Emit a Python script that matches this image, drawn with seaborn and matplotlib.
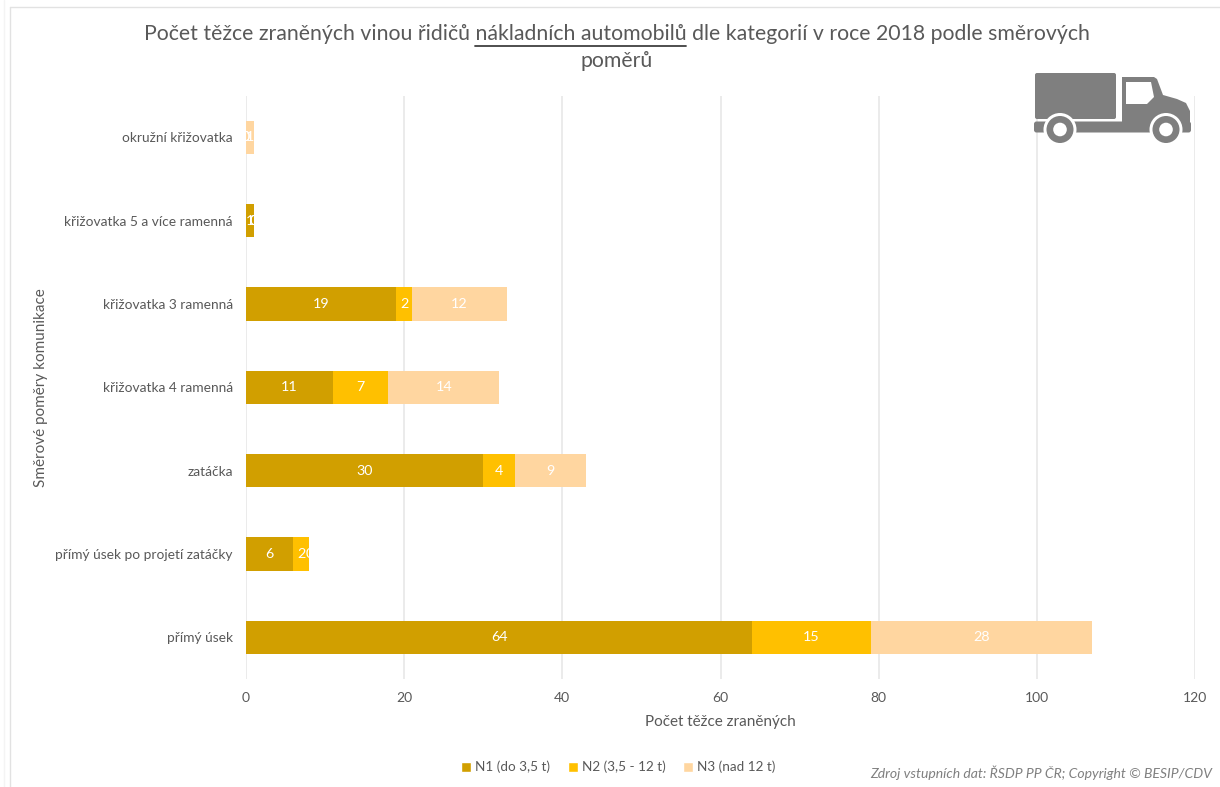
import matplotlib
matplotlib.use("Agg")
import matplotlib.pyplot as plt
from matplotlib.lines import Line2D
from matplotlib.patches import Circle, FancyBboxPatch, Patch, Polygon
import numpy as np
import seaborn as sns

categories = [
    "okružní křižovatka",
    "křižovatka 5 a více ramenná",
    "křižovatka 3 ramenná",
    "křižovatka 4 ramenná",
    "zatáčka",
    "přímý úsek po projetí zatáčky",
    "přímý úsek",
]
n1 = [0, 1, 19, 11, 30, 6, 64]
n2 = [0, 0, 2, 7, 4, 2, 15]
n3 = [1, 0, 12, 14, 9, 0, 28]
series_names = ["N1 (do 3,5 t)", "N2 (3,5 - 12 t)", "N3 (nad 12 t)"]
series_colors = ["#D19F00", "#FFC000", "#FFD6A0"]
x_ticks = [0, 20, 40, 60, 80, 100, 120]

title_before = "Počet těžce zraněných vinou řidičů "
title_under = "nákladních automobilů"
title_line1 = title_before + title_under + " dle kategorií v roce 2018 podle směrových"
title_line2 = "poměrů"
x_label = "Počet těžce zraněných"
y_label = "Směrové poměry komunikace"
source_note = "Zdroj vstupních dat: ŘSDP PP ČR; Copyright © BESIP/CDV"

W, H = 1220, 787
TEXT = "#595959"
GRID = "#E6E6E6"
TITLE_SIZE = 15.35

sns.set_theme(style="white")
plt.rcParams["font.family"] = ["Lato", "DejaVu Sans"]

fig = plt.figure(figsize=(W / 100, H / 100), dpi=100, facecolor="white")
ax = fig.add_axes([246 / W, 1 - 679 / H, (1195 - 246) / W, (679 - 95.5) / H])

# Stacked horizontal bars: each series starts where the previous ones end
lefts = np.zeros(len(categories))
for values, name, color in zip([n1, n2, n3], series_names, series_colors):
    sns.barplot(x=values, y=categories, left=lefts, color=color, saturation=1,
                width=0.4, ax=ax, label=name, orient="y", legend=False, linewidth=0)
    lefts = lefts + np.array(values)

# White value labels, zero values included
for container, values in zip(ax.containers, [n1, n2, n3]):
    ax.bar_label(container, labels=[str(v) for v in values], label_type="center",
                 color="white", fontsize=10.3)

ax.set_xlim(0, 120)
ax.set_xticks(x_ticks)
ax.set_axisbelow(True)
ax.grid(axis="x", color=GRID, linewidth=1.1)
ax.grid(axis="y", visible=False)
for spine in ax.spines.values():
    spine.set_visible(False)
ax.tick_params(axis="x", length=0, pad=9.5, labelsize=10, labelcolor=TEXT)
ax.tick_params(axis="y", length=0, pad=9.5, labelsize=9.9, labelcolor=TEXT)
ax.set_xlabel("")
ax.set_ylabel("")

fig.text(720 / W, 1 - 722 / H, x_label, ha="center", va="center", fontsize=10.95, color=TEXT)
fig.text(41 / W, 1 - 388 / H, y_label, ha="center", va="center", rotation=90,
         fontsize=11, color=TEXT)

# Title with the vehicle type underlined
fig.text(616.5 / W, 1 - 34 / H, title_line1, ha="center", va="center", fontsize=TITLE_SIZE, color=TEXT)
fig.text(616.5 / W, 1 - 61 / H, title_line2, ha="center", va="center", fontsize=TITLE_SIZE, color=TEXT)
renderer = fig.canvas.get_renderer()


def text_width(s):
    probe = fig.text(0, 0, s, fontsize=TITLE_SIZE)
    width = probe.get_window_extent(renderer).width
    probe.remove()
    return width


line_left = 616.5 - text_width(title_line1) / 2
under_start = line_left + text_width(title_before + "x") - text_width("x")
under_end = under_start + text_width(title_under)
fig.add_artist(Line2D([under_start / W, under_end / W], [1 - 45.5 / H] * 2,
                      color="#404040", linewidth=1.3))

# Legend and source note
handles = [Patch(facecolor=c, label=n) for c, n in zip(series_colors, series_names)]
fig.legend(handles=handles, loc="center", bbox_to_anchor=(618.5 / W, 1 - 767 / H), ncol=3,
           frameon=False, fontsize=9.7, labelcolor=TEXT, handlelength=0.75, handleheight=0.75,
           handletextpad=0.3, columnspacing=1.3)
fig.text(1212 / W, 1 - 773 / H, source_note, ha="right", va="center", style="italic",
         fontsize=10.07, color="#808080")

# Thin frame lines at the top and left edge
fig.add_artist(Line2D([9.5 / W, 1], [1 - 6.5 / H] * 2, color="#E2E2E2", linewidth=1))
fig.add_artist(Line2D([9.5 / W] * 2, [0, 1 - 6.5 / H], color="#E2E2E2", linewidth=1))
fig.add_artist(Line2D([3.5 / W] * 2, [0, 1], color="#F4F4F4", linewidth=1))

# Truck pictogram on a pixel-scaled overlay
icon = fig.add_axes([0, 0, 1, 1], facecolor="none")
icon.set_xlim(0, W)
icon.set_ylim(H, 0)
icon.axis("off")
GREY = "#7F7F7F"
icon.add_patch(FancyBboxPatch((1035, 73), 81, 46, boxstyle="round,pad=0,rounding_size=2",
                              facecolor=GREY, edgecolor="none"))
icon.add_patch(FancyBboxPatch((1034, 121.5), 157, 11, boxstyle="round,pad=0,rounding_size=2.5",
                              facecolor=GREY, edgecolor="none"))
icon.add_patch(Polygon([(1122, 77), (1154, 77), (1157, 79), (1163, 95), (1177, 99), (1186, 103),
                        (1190, 111), (1190, 120), (1190, 123), (1122, 123)],
                       facecolor=GREY, edgecolor="none"))
icon.add_patch(Polygon([(1126, 82), (1151, 82), (1154, 97), (1147, 104), (1126, 104)],
                       facecolor="white", edgecolor="none"))
for cx in (1060, 1166):
    icon.add_patch(Circle((cx, 129.5), 16.5, facecolor="white", edgecolor="none"))
    icon.add_patch(Circle((cx, 129.5), 13.5, facecolor=GREY, edgecolor="none"))
    icon.add_patch(Circle((cx, 129.5), 6.8, facecolor="white", edgecolor="none"))

fig.savefig("out.png", dpi=100)
